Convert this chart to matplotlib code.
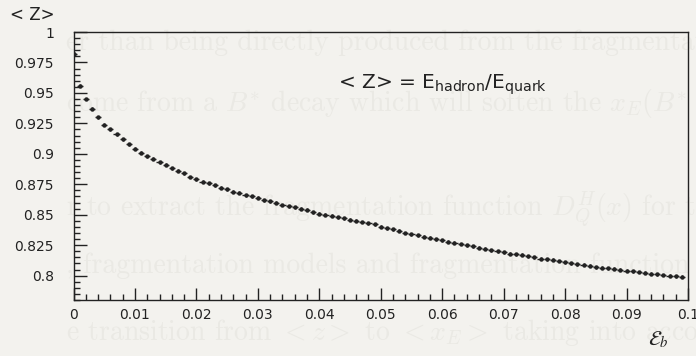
import numpy as np
import matplotlib.pyplot as plt
from matplotlib.ticker import MultipleLocator

# ---------------------------
# Mean scaled energy <z> versus epsilon_b (one point per 0.001 bin)
# ---------------------------

eps_b = np.arange(0.0, 0.1, 0.001)

mean_z = [
    0.982, 0.956, 0.945, 0.937, 0.930, 0.924, 0.920, 0.916, 0.912, 0.908,
    0.904, 0.901, 0.898, 0.896, 0.893, 0.891, 0.888, 0.886, 0.884, 0.881,
    0.879, 0.877, 0.876, 0.874, 0.872, 0.871, 0.869, 0.868, 0.866, 0.865,
    0.864, 0.862, 0.861, 0.860, 0.858, 0.857, 0.856, 0.855, 0.854, 0.852,
    0.851, 0.850, 0.849, 0.848, 0.847, 0.846, 0.845, 0.844, 0.843, 0.842,
    0.840, 0.839, 0.838, 0.837, 0.835, 0.834, 0.833, 0.832, 0.831, 0.830,
    0.829, 0.828, 0.827, 0.826, 0.825, 0.824, 0.823, 0.822, 0.821, 0.820,
    0.819, 0.818, 0.8175, 0.817, 0.816, 0.815, 0.814, 0.8135, 0.813, 0.812,
    0.811, 0.810, 0.8095, 0.809, 0.808, 0.807, 0.8065, 0.806, 0.8055, 0.805,
    0.804, 0.8035, 0.803, 0.8025, 0.8015, 0.801, 0.8005, 0.800, 0.7995, 0.799,
]

eps_err = 0.0005
z_err = 0.0012

x_ticks = [0, 0.01, 0.02, 0.03, 0.04, 0.05, 0.06, 0.07, 0.08, 0.09, 0.1]
x_tick_labels = ["0", "0.01", "0.02", "0.03", "0.04", "0.05",
                 "0.06", "0.07", "0.08", "0.09", "0.1"]
y_ticks = [0.8, 0.825, 0.85, 0.875, 0.9, 0.925, 0.95, 0.975, 1.0]
y_tick_labels = ["0.8", "0.825", "0.85", "0.875", "0.9",
                 "0.925", "0.95", "0.975", "1"]

# faint page text lying underneath the plot
page_lines = [
    (43, "er than being directly produced from the fragmentati"),
    (103, r"come from a $B^{*}$ decay which will soften the $x_E(B^{*}$"),
    (210, r"r to extract the fragmentation function $D_Q^H(x)$ for t"),
    (266, ", fragmentation models and fragmentation function"),
    (332, r"e transition from $<z>$ to $<x_E>$ taking into accou"),
]

W, H = 696, 356

fig = plt.figure(figsize=(W / 100, H / 100), dpi=100, facecolor="#f3f2ee")

for ypix, line in page_lines:
    fig.text(66 / W, 1 - ypix / H, line, family="cmr10", math_fontfamily="cm",
             fontsize=20, color="#eae9e4", va="center", ha="left", zorder=-1)

ax = fig.add_axes([73.5 / W, 1 - 300 / H, (688 - 73.5) / W, (300 - 32) / H])
ax.set_facecolor("none")

ax.errorbar(eps_b, mean_z, xerr=eps_err, yerr=z_err, fmt="o", ms=2.2,
            color="#222222", ecolor="#222222", elinewidth=1.0, capsize=0)

ax.set_xlim(0, 0.1)
ax.set_ylim(0.78, 1.0)

ax.set_xticks(x_ticks)
ax.set_xticklabels(x_tick_labels)
ax.set_yticks(y_ticks)
ax.set_yticklabels(y_tick_labels)
ax.xaxis.set_minor_locator(MultipleLocator(0.002))
ax.yaxis.set_minor_locator(MultipleLocator(0.005))

ax.tick_params(which="both", direction="in", width=1.0, colors="#222222",
               labelsize=10, top=False, right=False)
ax.tick_params(which="major", length=9)
ax.tick_params(which="minor", length=4.5)
ax.tick_params(axis="x", pad=6)
ax.tick_params(axis="y", pad=14)

for spine in ax.spines.values():
    spine.set_linewidth(1.0)
    spine.set_color("#222222")

ax.text(338 / W, 1 - 85 / H,
        r"< Z> = E$_{\rm hadron}$/E$_{\rm quark}$",
        transform=fig.transFigure, fontsize=14.5, color="#222222", va="center")

fig.text(10 / W, 1 - 15 / H, "< Z>", fontsize=12, color="#222222", va="center")
fig.text(648 / W, 1 - 340 / H, r"$\mathcal{E}_b$", math_fontfamily="stix",
         fontsize=15, color="#222222", va="center")

plt.savefig("out.png", dpi=100, facecolor=fig.get_facecolor())
